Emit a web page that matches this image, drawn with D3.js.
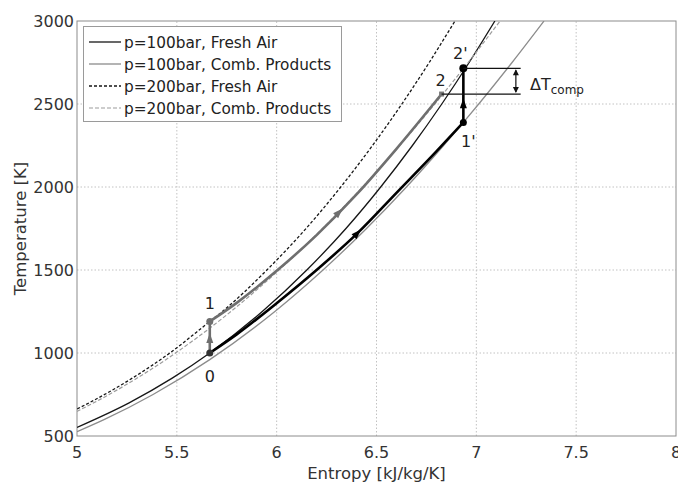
<!DOCTYPE html>
<html>
<head>
<meta charset="utf-8">
<title>T-s diagram, fresh air vs combustion products</title>
<script src="https://cdn.jsdelivr.net/npm/d3@7"></script>
<style>
    body { margin: 0; background: #fff; }
    svg { font-family: "DejaVu Sans", "Liberation Sans", sans-serif; }
    .grid line { stroke: #c2c2c2; stroke-width: 1; stroke-dasharray: 1.5,2; }
    .frame { fill: none; stroke: #8c8c8c; stroke-width: 1; }
    .tick { font-size: 16px; fill: #333; }
    .axtitle { font-size: 16.5px; fill: #333; }
    .ln { fill: none; stroke-linejoin: round; }
    .fa100 { stroke: #161616; stroke-width: 1.3; }
    .cp100 { stroke: #8c8c8c; stroke-width: 1.3; }
    .fa200 { stroke: #161616; stroke-width: 1.3; stroke-dasharray: 3,2; }
    .cp200 { stroke: #9c9c9c; stroke-width: 1.2; stroke-dasharray: 4,2; }
    .thickBlack { stroke: #000; stroke-width: 2.6; }
    .thickGray { stroke: #6f6f6f; stroke-width: 2.6; }
    .lbl { font-size: 16px; fill: #222; text-anchor: middle; }
    .legtxt { font-size: 15.3px; fill: #222; }
</style>
</head>
<body>
<svg id="chart"></svg>
<script>
    var W = 678, H = 483;

    //axis ticks
    var sTicks = [5, 5.5, 6, 6.5, 7, 7.5, 8],
        sTickLabels = ["5", "5.5", "6", "6.5", "7", "7.5", "8"],
        tTicks = [500, 1000, 1500, 2000, 2500, 3000];

    //isobars (entropy kJ/kg/K, temperature K)
    var fa100S = [5.000, 5.261, 5.479, 5.665, 5.928, 6.151, 6.347, 6.521, 6.680, 6.827, 6.964, 7.093],
        fa100T = [552, 700, 850, 1000, 1250, 1500, 1750, 2000, 2250, 2500, 2750, 3000];
    var cp100S = [5.000, 5.138, 5.381, 5.665, 5.991, 6.232, 6.450, 6.650, 6.836, 6.935, 7.012, 7.179, 7.339],
        cp100T = [526, 600, 750, 960, 1250, 1500, 1750, 2000, 2250, 2389, 2500, 2750, 3000];
    var fa200S = [4.979, 5.061, 5.279, 5.465, 5.665, 5.728, 5.951, 6.147, 6.321, 6.480, 6.627, 6.764, 6.893],
        fa200T = [650, 700, 850, 1000, 1190, 1250, 1500, 1750, 2000, 2250, 2500, 2750, 3000];
    var cp200S = [4.918, 5.161, 5.445, 5.771, 6.012, 6.230, 6.430, 6.616, 6.792, 6.959, 7.119],
        cp200T = [600, 750, 960, 1250, 1500, 1750, 2000, 2250, 2500, 2750, 3000];

    //process paths
    var path01S = [5.665, 5.8, 6.0, 6.2, 6.405, 6.6, 6.8, 6.935],      // 0 -> 1'
        path01T = [1000, 1112, 1300, 1500, 1722, 1965, 2215, 2389];
    var path12S = [5.665, 5.8, 6.0, 6.2, 6.4, 6.6, 6.826],             // 1 -> 2
        path12T = [1190, 1302, 1495, 1710, 1955, 2230, 2560];

    //state points
    var ptNames = ["0", "1", "1'", "2", "2'"],
        ptS = [5.665, 5.665, 6.935, 6.826, 6.935],
        ptT = [1000, 1190, 2389, 2560, 2715];

    var legendNames = ["p=100bar, Fresh Air", "p=100bar, Comb. Products",
                       "p=200bar, Fresh Air", "p=200bar, Comb. Products"];

    var x = d3.scaleLinear().domain([5, 8]).range([77, 676]),
        y = d3.scaleLinear().domain([500, 3000]).range([436, 21]);

    var svg = d3.select("#chart").attr("width", W).attr("height", H);
    svg.append("rect").attr("width", W).attr("height", H).attr("fill", "#fff");

    svg.append("clipPath").attr("id", "clip").append("rect")
        .attr("x", x(5)).attr("y", y(3000)).attr("width", x(8) - x(5)).attr("height", y(500) - y(3000));

    //grid
    var grid = svg.append("g").attr("class", "grid");
    grid.selectAll("line.v").data(sTicks.slice(1, -1)).enter().append("line")
        .attr("x1", function(d) { return x(d); }).attr("x2", function(d) { return x(d); })
        .attr("y1", y(500)).attr("y2", y(3000));
    grid.selectAll("line.h").data(tTicks.slice(1, -1)).enter().append("line")
        .attr("y1", function(d) { return y(d); }).attr("y2", function(d) { return y(d); })
        .attr("x1", x(5)).attr("x2", x(8));

    svg.append("rect").attr("class", "frame")
        .attr("x", x(5)).attr("y", y(3000)).attr("width", x(8) - x(5)).attr("height", y(500) - y(3000));

    //tick labels
    svg.append("g").selectAll("text").data(sTicks).enter().append("text")
        .attr("class", "tick").attr("text-anchor", "middle")
        .attr("x", function(d) { return x(d); }).attr("y", y(500) + 22)
        .text(function(d, i) { return sTickLabels[i]; });
    svg.append("g").selectAll("text").data(tTicks).enter().append("text")
        .attr("class", "tick").attr("text-anchor", "end")
        .attr("x", x(5) - 3).attr("y", function(d) { return y(d) + 6; })
        .text(function(d) { return d; });

    svg.append("text").attr("class", "axtitle").attr("text-anchor", "middle")
        .attr("x", (x(5) + x(8)) / 2).attr("y", 479).text("Entropy [kJ/kg/K]");
    svg.append("text").attr("class", "axtitle").attr("text-anchor", "middle")
        .attr("transform", "translate(26," + ((y(500) + y(3000)) / 2) + ") rotate(-90)")
        .text("Temperature [K]");

    var line = d3.line()
        .x(function(d) { return x(d[0]); })
        .y(function(d) { return y(d[1]); })
        .curve(d3.curveMonotoneX);

    var g = svg.append("g").attr("clip-path", "url(#clip)");

    var curves = [
        {s: fa100S, t: fa100T, cl: "fa100"},
        {s: cp100S, t: cp100T, cl: "cp100"},
        {s: fa200S, t: fa200T, cl: "fa200"},
        {s: cp200S, t: cp200T, cl: "cp200"}
    ];
    curves.forEach(function(c) {
        g.append("path").attr("class", "ln " + c.cl).attr("d", line(d3.zip(c.s, c.t)));
    });

    //process lines
    g.append("path").attr("class", "ln thickBlack").attr("d", line(d3.zip(path01S, path01T)));
    g.append("path").attr("class", "ln thickGray").attr("d", line(d3.zip(path12S, path12T)));
    g.append("line").attr("class", "ln thickGray")
        .attr("x1", x(ptS[0])).attr("x2", x(ptS[1])).attr("y1", y(ptT[0])).attr("y2", y(ptT[1]));
    g.append("line").attr("class", "ln thickBlack")
        .attr("x1", x(ptS[2])).attr("x2", x(ptS[4])).attr("y1", y(ptT[2])).attr("y2", y(ptT[4]));

    //arrow heads
    function arrow(px, py, ang, col, sz) {
        sz = sz || 5;
        g.append("path")
            .attr("d", "M" + sz + ",0L" + (-sz) + "," + (-sz * 0.7) + "L" + (-sz) + "," + (sz * 0.7) + "Z")
            .attr("fill", col)
            .attr("transform", "translate(" + px + "," + py + ") rotate(" + ang + ")");
    }
    function arrowOnPath(S, T, s, col) {
        var i = d3.bisectRight(S, s) - 1;
        var f = (s - S[i]) / (S[i + 1] - S[i]);
        var t = T[i] + f * (T[i + 1] - T[i]);
        var a = Math.atan2(y(T[i + 1]) - y(T[i]), x(S[i + 1]) - x(S[i])) * 180 / Math.PI;
        arrow(x(s), y(t), a, col);
    }
    arrowOnPath(path01S, path01T, 6.405, "#000");
    arrowOnPath(path12S, path12T, 6.313, "#6f6f6f");
    arrow(x(ptS[0]), y(1090), -90, "#6f6f6f");
    arrow(x(ptS[2]), y(2505), -90, "#000");

    //state points
    g.append("circle").attr("cx", x(ptS[0])).attr("cy", y(ptT[0])).attr("r", 3.5).attr("fill", "#333");
    g.append("circle").attr("cx", x(ptS[1])).attr("cy", y(ptT[1])).attr("r", 3.5).attr("fill", "#6f6f6f");
    g.append("circle").attr("cx", x(ptS[2])).attr("cy", y(ptT[2])).attr("r", 3.5).attr("fill", "#000");
    g.append("rect").attr("x", x(ptS[3]) - 2.5).attr("y", y(ptT[3]) - 2.5).attr("width", 5).attr("height", 5).attr("fill", "#777");
    g.append("circle").attr("cx", x(ptS[4])).attr("cy", y(ptT[4])).attr("r", 4).attr("fill", "#000");

    var lblOff = [[0, 29], [0, -12], [5, 25], [-1, -8], [-3, -9]];
    svg.append("g").selectAll("text").data(ptNames).enter().append("text")
        .attr("class", "lbl")
        .attr("x", function(d, i) { return x(ptS[i]) + lblOff[i][0]; })
        .attr("y", function(d, i) { return y(ptT[i]) + lblOff[i][1]; })
        .attr("fill", function(d, i) { return (i === 1 || i === 3) ? "#555" : "#222"; })
        .text(function(d) { return d; });

    //delta T annotation
    var ann = svg.append("g").attr("stroke", "#111").attr("stroke-width", 1.2);
    var annS = 7.222, annArrowS = 7.198;
    ann.append("line").attr("x1", x(ptS[4])).attr("x2", x(annS)).attr("y1", y(ptT[4])).attr("y2", y(ptT[4]));
    ann.append("line").attr("x1", x(ptS[3])).attr("x2", x(annS)).attr("y1", y(ptT[3])).attr("y2", y(ptT[3]));
    ann.append("line").attr("x1", x(annArrowS)).attr("x2", x(annArrowS)).attr("y1", y(ptT[4]) + 2).attr("y2", y(ptT[3]) - 2);
    svg.append("path").attr("fill", "#111")
        .attr("d", "M" + x(annArrowS) + "," + (y(ptT[4]) + 1) + "l-3,6h6z");
    svg.append("path").attr("fill", "#111")
        .attr("d", "M" + x(annArrowS) + "," + (y(ptT[3]) - 1) + "l-3,-6h6z");
    var dt = svg.append("text").attr("x", 530).attr("y", 90).attr("font-size", "16px").attr("fill", "#222");
    dt.append("tspan").text("\u0394T");
    dt.append("tspan").attr("dy", 4).attr("font-size", "12px").text("comp");

    //legend
    var leg = svg.append("g");
    leg.append("rect").attr("x", 83.5).attr("y", 26.5).attr("width", 258).attr("height", 95)
        .attr("fill", "#fff").attr("stroke", "#9a9a9a");
    var legCl = ["fa100", "cp100", "fa200", "cp200"];
    legendNames.forEach(function(n, i) {
        var yy = 42 + i * 22;
        leg.append("line").attr("class", "ln " + legCl[i])
            .attr("x1", 89).attr("x2", 121).attr("y1", yy).attr("y2", yy);
        leg.append("text").attr("class", "legtxt").attr("x", 124).attr("y", yy + 5.5).text(n);
    });
</script>
</body>
</html>
